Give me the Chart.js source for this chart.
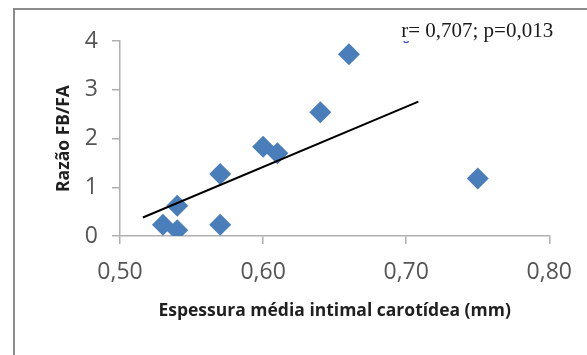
<!DOCTYPE html>
<html><head><meta charset="utf-8">
<script src="https://cdn.jsdelivr.net/npm/chart.js@4.4.1/dist/chart.umd.min.js"></script>
<style>
html,body{margin:0;padding:0;background:#fff;overflow:hidden;width:587px;height:355px}
#frame{position:absolute;left:13px;top:8px;width:700px;height:500px;border:2px solid #8c8c8c;box-sizing:border-box}
#c{position:absolute;left:0;top:0}
</style></head><body>
<div id="frame"></div>
<canvas id="c" width="587" height="355"></canvas>
<script>
const xValues = [0.53, 0.54, 0.54, 0.57, 0.57, 0.60, 0.61, 0.64, 0.66, 0.75];
const yValues = [0.23, 0.12, 0.62, 1.27, 0.23, 1.83, 1.70, 2.54, 3.73, 1.18];
const trendX = [0.516, 0.7085];
const trendY = [0.38, 2.755];
const markerX = [0.70];
const markerY = [4.02];
const xTickLabels = ['0,50', '0,60', '0,70', '0,80'];
const yTickLabels = ['0', '1', '2', '3', '4'];
const annotationText = 'r= 0,707; p=0,013';
const xTitle = 'Espessura média intimal carotídea (mm)';
const yTitle = 'Razão FB/FA';

const pts = (xs, ys) => xs.map((x, i) => ({x: x, y: ys[i]}));

const annotate = {
  id: 'annotate',
  afterDatasetsDraw(chart) {
    const ctx = chart.ctx;
    const xs = chart.scales.x, ys = chart.scales.y;
    ctx.save();
    ctx.font = '21px "Liberation Serif"';
    ctx.fillStyle = '#1a1a1a';
    ctx.textBaseline = 'alphabetic';
    ctx.textAlign = 'left';
    ctx.fillText(annotationText, xs.getPixelForValue(markerX[0]) - 5, ys.getPixelForValue(markerY[0]) - 3);
    ctx.restore();
  }
};

const axisColor = '#b0b0b0';
new Chart(document.getElementById('c'), {
  type: 'scatter',
  data: {
    datasets: [
      {
        type: 'line',
        data: pts(trendX, trendY),
        borderColor: '#000',
        borderWidth: 2,
        pointRadius: 0,
        fill: false,
        order: 0
      },
      {
        data: pts(xValues, yValues),
        pointStyle: 'rectRot',
        pointRadius: 11,
        backgroundColor: '#4a7ebb',
        borderColor: '#4a7ebb',
        borderWidth: 0,
        order: 1
      },
      {
        data: pts(markerX, markerY),
        pointStyle: 'circle',
        pointRadius: 2.5,
        backgroundColor: '#ffffff',
        borderColor: '#2f4fd8',
        borderWidth: 1.3,
        order: 2
      }
    ]
  },
  options: {
    responsive: false,
    animation: false,
    events: [],
    layout: {padding: {left: 53.4, right: 37.7, top: 41, bottom: 33.4}},
    plugins: {legend: {display: false}, tooltip: {enabled: false}},
    scales: {
      x: {
        type: 'linear',
        min: 0.5, max: 0.8,
        afterFit: s => { s.height = 85.6; },
        ticks: {
          stepSize: 0.1,
          padding: 15,
          color: '#555555',
          font: {family: '"Open Sans"', size: 23},
          callback: (v, i) => xTickLabels[i]
        },
        grid: {display: true, drawOnChartArea: false, drawTicks: true, tickLength: 8, color: axisColor, lineWidth: 1.5},
        border: {display: true, color: axisColor, width: 1.5},
        title: {display: true, text: xTitle, color: '#1f1f1f', padding: 0, font: {family: '"Open Sans"', size: 17.5, weight: 'bold'}}
      },
      y: {
        type: 'linear',
        min: 0, max: 4,
        afterFit: s => { s.width = 66.6; },
        ticks: {
          stepSize: 1,
          padding: 14,
          color: '#555555',
          font: {family: '"Open Sans"', size: 23},
          callback: (v, i) => yTickLabels[i]
        },
        grid: {display: true, drawOnChartArea: false, drawTicks: true, tickLength: 8, color: axisColor, lineWidth: 1.5},
        border: {display: true, color: axisColor, width: 1.5},
        title: {display: true, text: yTitle, color: '#1f1f1f', padding: 0, font: {family: '"Open Sans"', size: 17.5, weight: 'bold'}}
      }
    }
  },
  plugins: [annotate]
});
</script>
</body></html>
